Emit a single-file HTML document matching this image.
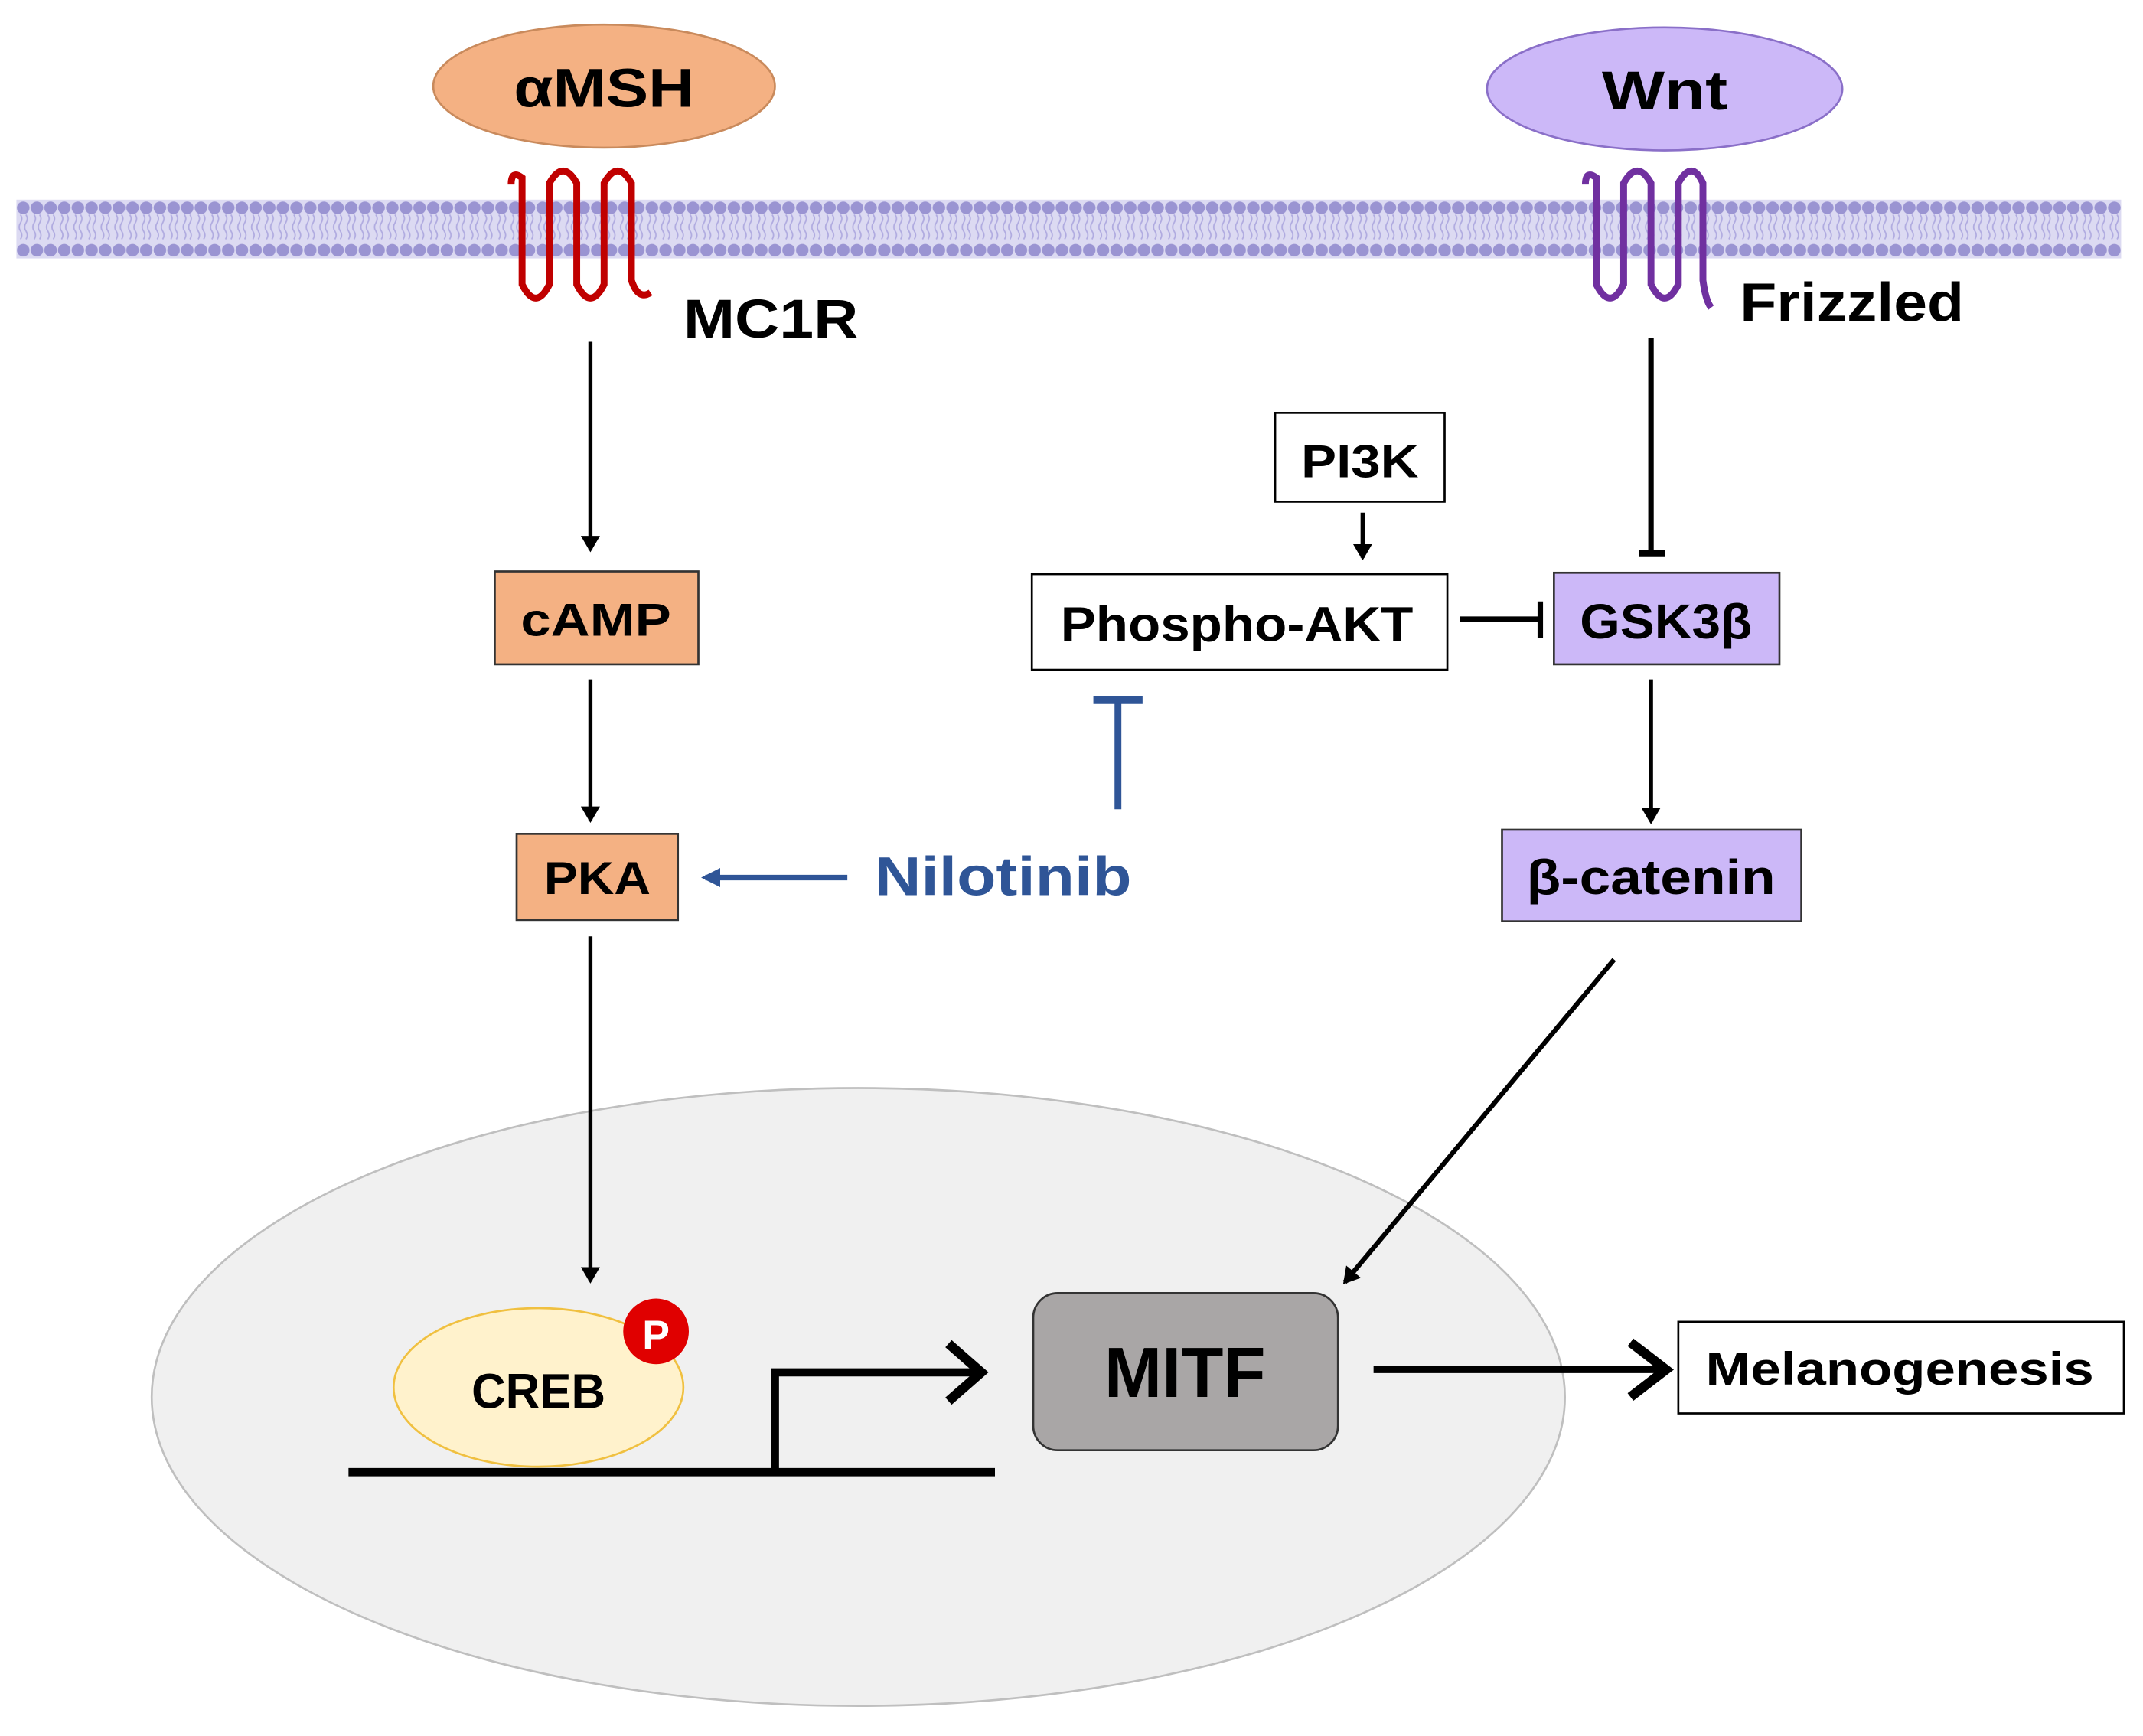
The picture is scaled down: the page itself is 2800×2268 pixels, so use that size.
<!DOCTYPE html>
<html><head><meta charset="utf-8"><style>
html,body{margin:0;padding:0;background:#fff}
svg{display:block}
text{font-family:"Liberation Sans",sans-serif;font-weight:bold}
</style></head><body>
<svg width="2800" height="2268" viewBox="0 0 1568 1270" xmlns="http://www.w3.org/2000/svg">
<defs>
<pattern id="lip" x="12" y="0" width="10" height="1270" patternUnits="userSpaceOnUse">
<circle cx="5" cy="152" r="4.6" fill="#9a94d2"/>
<circle cx="5" cy="183" r="4.6" fill="#9a94d2"/>
<path d="M3,157 q2,3 0,6 q-2,3 0,6 q2,3 0,6 M7,157 q2,3 0,6 q-2,3 0,6 q2,3 0,6" stroke="#b0abe0" stroke-width="1" fill="none"/>
</pattern>
<marker id="ah" markerWidth="12" markerHeight="14" refX="10" refY="7" orient="auto" markerUnits="userSpaceOnUse" viewBox="0 0 12 14">
<path d="M0,0 L12,7 L0,14 Z" fill="#000"/></marker>
<marker id="ahb" markerWidth="14" markerHeight="14" refX="11" refY="7" orient="auto" markerUnits="userSpaceOnUse" viewBox="0 0 14 14">
<path d="M0,0 L14,7 L0,14 Z" fill="#2f5597"/></marker>
</defs>
<rect x="12" y="146" width="1540" height="43" fill="#dcdaf2"/>
<rect x="12" y="146" width="1540" height="43" fill="url(#lip)"/>
<ellipse cx="442" cy="63" rx="125" ry="45" fill="#f4b183" stroke="#c98a5c" stroke-width="1.5"/>
<text x="442" y="78" font-size="40" text-anchor="middle" textLength="132" lengthAdjust="spacingAndGlyphs">αMSH</text>
<ellipse cx="1218" cy="65" rx="130" ry="45" fill="#ccb8f8" stroke="#8a6fc8" stroke-width="1.5"/>
<text x="1218" y="80" font-size="40" text-anchor="middle" textLength="92" lengthAdjust="spacingAndGlyphs">Wnt</text>
<path d="M374,135 Q374,124 382,130 L382,208 Q392,228 402,208 L402,134 Q412,116 422,134 L422,208 Q432,228 442,208 L442,134 Q452,116 462,134 L462,205 Q467,220 476,214" stroke="#c00000" stroke-width="5" fill="none"/>
<text x="500" y="247" font-size="40" textLength="128" lengthAdjust="spacingAndGlyphs">MC1R</text>
<path d="M1160,135 Q1160,124 1168,130 L1168,208 Q1178,228 1188,208 L1188,134 Q1198,116 1208,134 L1208,208 Q1218,228 1228,208 L1228,134 Q1238,116 1246,134 L1246,205 Q1248,220 1252,225" stroke="#7030a0" stroke-width="5" fill="none"/>
<text x="1273" y="235" font-size="40" textLength="164" lengthAdjust="spacingAndGlyphs">Frizzled</text>
<ellipse cx="628" cy="1022" rx="517" ry="226" fill="#f0f0f0" stroke="#bfbfbf" stroke-width="1.5"/>
<line x1="432" y1="250" x2="432" y2="402" stroke="#000" stroke-width="3" marker-end="url(#ah)"/>
<rect x="362" y="418" width="149" height="68" fill="#f4b183" stroke="#333" stroke-width="1.5"/>
<text x="436" y="465" font-size="34" text-anchor="middle" textLength="110" lengthAdjust="spacingAndGlyphs">cAMP</text>
<line x1="432" y1="497" x2="432" y2="600" stroke="#000" stroke-width="3" marker-end="url(#ah)"/>
<rect x="378" y="610" width="118" height="63" fill="#f4b183" stroke="#333" stroke-width="1.5"/>
<text x="437" y="654" font-size="34" text-anchor="middle" textLength="78" lengthAdjust="spacingAndGlyphs">PKA</text>
<line x1="432" y1="685" x2="432" y2="937" stroke="#000" stroke-width="3" marker-end="url(#ah)"/>
<text x="640" y="655" font-size="40" fill="#2f5597" textLength="188" lengthAdjust="spacingAndGlyphs">Nilotinib</text>
<line x1="620" y1="642" x2="516" y2="642" stroke="#2f5597" stroke-width="4" marker-end="url(#ahb)"/>
<line x1="818" y1="592" x2="818" y2="512" stroke="#2f5597" stroke-width="5"/>
<line x1="800" y1="512" x2="836" y2="512" stroke="#2f5597" stroke-width="6"/>
<rect x="933" y="302" width="124" height="65" fill="#fff" stroke="#000" stroke-width="1.5"/>
<text x="995" y="349" font-size="34" text-anchor="middle" textLength="86" lengthAdjust="spacingAndGlyphs">PI3K</text>
<line x1="997" y1="375" x2="997" y2="408" stroke="#000" stroke-width="3" marker-end="url(#ah)"/>
<rect x="755" y="420" width="304" height="70" fill="#fff" stroke="#000" stroke-width="1.5"/>
<text x="905" y="469" font-size="36" text-anchor="middle" textLength="258" lengthAdjust="spacingAndGlyphs">Phospho-AKT</text>
<line x1="1068" y1="453" x2="1127" y2="453" stroke="#000" stroke-width="4"/>
<line x1="1127" y1="440" x2="1127" y2="467" stroke="#000" stroke-width="4"/>
<line x1="1208" y1="247" x2="1208" y2="405" stroke="#000" stroke-width="4"/>
<line x1="1199" y1="405" x2="1218" y2="405" stroke="#000" stroke-width="5"/>
<rect x="1137" y="419" width="165" height="67" fill="#ccb8f8" stroke="#333" stroke-width="1.5"/>
<text x="1219" y="467" font-size="36" text-anchor="middle" textLength="126" lengthAdjust="spacingAndGlyphs">GSK3β</text>
<line x1="1208" y1="497" x2="1208" y2="601" stroke="#000" stroke-width="3" marker-end="url(#ah)"/>
<rect x="1099" y="607" width="219" height="67" fill="#ccb8f8" stroke="#333" stroke-width="1.5"/>
<text x="1208" y="654" font-size="36" text-anchor="middle" textLength="182" lengthAdjust="spacingAndGlyphs">β-catenin</text>
<line x1="1181" y1="702" x2="984" y2="938" stroke="#000" stroke-width="3.5" marker-end="url(#ah)"/>
<ellipse cx="394" cy="1015" rx="106" ry="58" fill="#fff2cc" stroke="#f0c040" stroke-width="1.5"/>
<text x="394" y="1030" font-size="36" text-anchor="middle" textLength="98" lengthAdjust="spacingAndGlyphs">CREB</text>
<circle cx="480" cy="974" r="24" fill="#e00000"/>
<text x="480" y="987" font-size="30" fill="#fff" text-anchor="middle">P</text>
<line x1="255" y1="1077" x2="728" y2="1077" stroke="#000" stroke-width="6"/>
<polyline points="567,1077 567,1004 715,1004" fill="none" stroke="#000" stroke-width="6"/>
<polyline points="694,983 718,1004 694,1025" fill="none" stroke="#000" stroke-width="7"/>
<rect x="756" y="946" width="223" height="115" rx="18" fill="#a9a6a6" stroke="#333" stroke-width="1.5"/>
<text x="867" y="1022" font-size="52" text-anchor="middle" textLength="118" lengthAdjust="spacingAndGlyphs">MITF</text>
<line x1="1005" y1="1002" x2="1215" y2="1002" stroke="#000" stroke-width="5"/>
<polyline points="1193,982 1219,1002 1193,1022" fill="none" stroke="#000" stroke-width="7"/>
<rect x="1228" y="967" width="326" height="67" fill="#fff" stroke="#000" stroke-width="1.5"/>
<text x="1390" y="1013" font-size="34" text-anchor="middle" textLength="284" lengthAdjust="spacingAndGlyphs">Melanogenesis</text>
</svg>
</body></html>
